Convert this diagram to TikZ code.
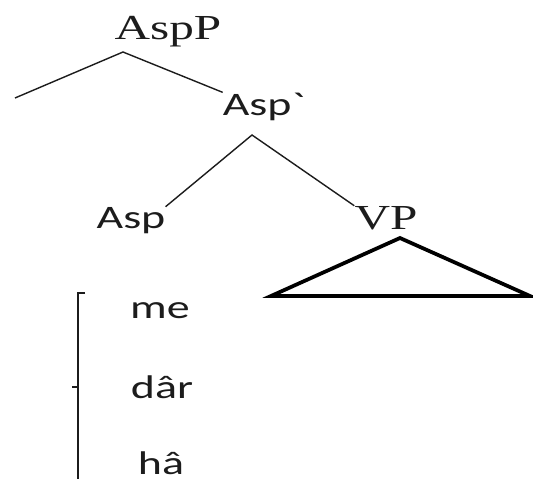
\documentclass[tikz,border=0pt]{standalone}
\usepackage{fontspec}
\usepackage{tikz}
\usetikzlibrary{calc}
\newfontfamily\treeserif[FakeStretch=1.4]{Liberation Serif}
\newfontfamily\treesans[FakeStretch=1.4]{Carlito}
\definecolor{TreeInk}{HTML}{1C1C1C}

\begin{document}
\begin{tikzpicture}[x=0.03cm, y=-0.03cm,
        phrase/.style={anchor=base, inner sep=0pt, text=TreeInk,
            font=\treeserif\fontsize{30}{36}\selectfont},
        head/.style={anchor=base, inner sep=0pt, text=TreeInk,
            font=\treesans\fontsize{28}{34}\selectfont},
        branch/.style={draw=TreeInk, line width=1.2pt},
        roof/.style={draw=black, line width=3.2pt, line join=miter}
    ]
        \useasboundingbox (0,0) rectangle (533,479);

        \node[phrase] (aspp) at (168,40) {AspP};
        \node[head] (aspbar) at (262,115) {Asp\textasciigrave};
        \node[head] (asp) at (131,228) {Asp};
        \node[phrase] (vp) at (386,229) {VP};

        \node[head] (me) at (160,318) {me};
        \node[head] (dar) at (162,398) {dâr};
        \node[head] (ha) at (161,474) {hâ};

        \coordinate (aspp-fork) at (123,52);
        \coordinate (spec-end) at (15,98);
        \coordinate (aspbar-fork) at (252,135);
        \coordinate (vp-peak) at (400,238);

        \draw[branch] (spec-end) -- (aspp-fork) -- (aspbar.north west);
        \draw[branch] (asp.north east) -- (aspbar-fork) -- (vp.north west);
        \draw[roof] (vp-peak) -- (271,296) -- (530,296) -- cycle;

        \draw[branch] (85,293) -- (78,293) -- (78,485);
        \draw[branch] (78,387) -- (72,387);
    \end{tikzpicture}
\end{document}
